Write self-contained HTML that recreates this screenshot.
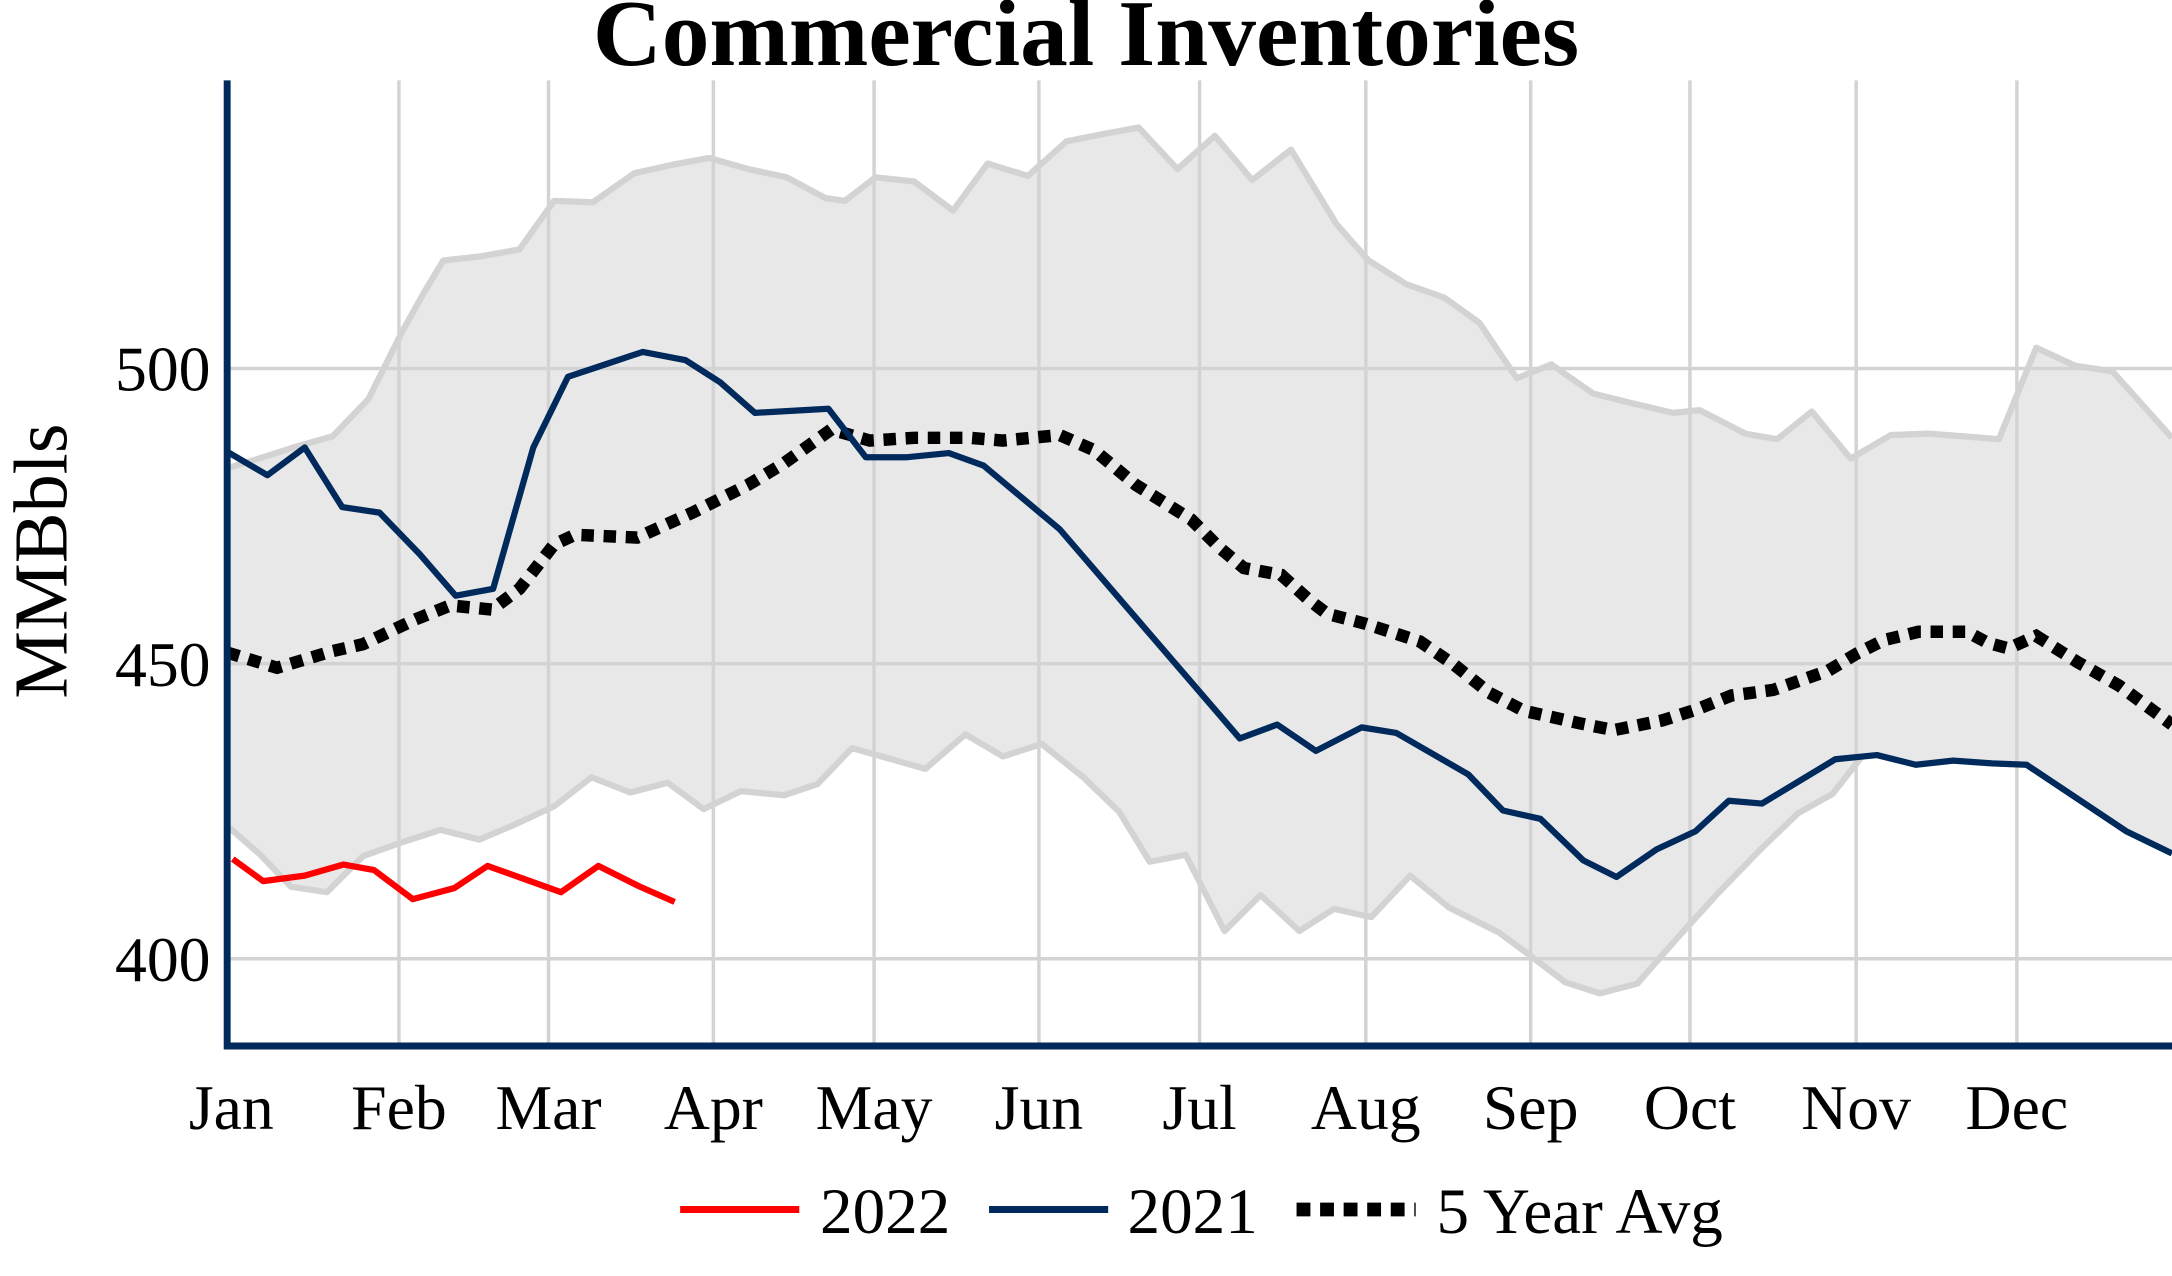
<!DOCTYPE html>
<html><head><meta charset="utf-8"><style>html,body{margin:0;padding:0;background:#fff;}svg{display:block}</style></head>
<body>
<svg width="2172" height="1276" viewBox="0 0 1568 921" preserveAspectRatio="none" xmlns="http://www.w3.org/2000/svg" font-family="'Liberation Serif', serif">
<rect width="1568" height="921" fill="#fff"/>
<polygon fill="#e8e8e8" points="164,338 190,330 215,322 240,315 266,288 290,240 305,213 320,188 347,185 375,180 400,145 428,146 458,125 485,119 512,114 540,122 568,128 596,143 610,145 632,128 660,131 688,152 713,118 742,127 770,102 795,97 822,92 850,122 877,98 904,130 932,108 965,162 988,188 1015,205 1043,215 1068,233 1095,273 1120,263 1150,284 1178,291 1208,298 1227,296 1260,313 1283,317 1308,297 1336,331 1365,314 1392,313 1418,315 1443,317 1470,251 1498,264 1525,268 1568,316 1568,616 1535,600 1500,578 1463,552 1438,550 1410,548 1385,551 1358,545 1345,545 1323,573 1298,587 1270,614 1240,645 1210,678 1182,710 1155,717 1130,709 1105,690 1082,673 1046,655 1018,632 990,662 963,656 938,672 910,646 884,672 856,617 830,622 808,586 782,561 752,537 724,546 697,530 668,555 640,547 615,540 590,566 566,574 535,571 508,584 482,565 455,572 427,561 400,582 372,595 346,606 318,599 290,608 262,618 236,644 210,640 188,617 164,596"/>
<g stroke="#d3d3d3" stroke-width="2.5">
<line x1="164" y1="266" x2="1568" y2="266"/><line x1="164" y1="479" x2="1568" y2="479"/><line x1="164" y1="692" x2="1568" y2="692"/>
<line x1="288" y1="58" x2="288" y2="755"/><line x1="396" y1="58" x2="396" y2="755"/><line x1="515" y1="58" x2="515" y2="755"/><line x1="631" y1="58" x2="631" y2="755"/><line x1="750" y1="58" x2="750" y2="755"/><line x1="866" y1="58" x2="866" y2="755"/><line x1="986" y1="58" x2="986" y2="755"/><line x1="1105" y1="58" x2="1105" y2="755"/><line x1="1220" y1="58" x2="1220" y2="755"/><line x1="1340" y1="58" x2="1340" y2="755"/><line x1="1456" y1="58" x2="1456" y2="755"/>
</g>
<g fill="none" stroke="#d3d3d3" stroke-width="4.5" stroke-linejoin="round">
<polyline points="164,338 190,330 215,322 240,315 266,288 290,240 305,213 320,188 347,185 375,180 400,145 428,146 458,125 485,119 512,114 540,122 568,128 596,143 610,145 632,128 660,131 688,152 713,118 742,127 770,102 795,97 822,92 850,122 877,98 904,130 932,108 965,162 988,188 1015,205 1043,215 1068,233 1095,273 1120,263 1150,284 1178,291 1208,298 1227,296 1260,313 1283,317 1308,297 1336,331 1365,314 1392,313 1418,315 1443,317 1470,251 1498,264 1525,268 1568,316"/>
<polyline points="164,596 188,617 210,640 236,644 262,618 290,608 318,599 346,606 372,595 400,582 427,561 455,572 482,565 508,584 535,571 566,574 590,566 615,540 640,547 668,555 697,530 724,546 752,537 782,561 808,586 830,622 856,617 884,672 910,646 938,672 963,656 990,662 1018,632 1046,655 1082,673 1105,690 1130,709 1155,717 1182,710 1210,678 1240,645 1270,614 1298,587 1323,573 1345,545"/>
</g>
<polyline fill="none" stroke="#000" stroke-width="9" stroke-dasharray="9 7" points="164,471 200,482 240,470 262,465 300,447 325,437 355,440 375,425 400,393 415,386 460,388 500,370 540,350 565,335 600,310 628,318 660,316 700,316 724,318 765,314 790,325 820,350 860,375 880,395 898,410 925,415 945,433 958,443 985,450 1025,463 1050,480 1075,500 1100,513 1140,522 1165,527 1200,520 1225,512 1250,502 1280,498 1320,484 1340,472 1360,462 1385,456 1420,456 1435,464 1450,468 1470,459 1500,478 1530,495 1568,523"/>
<polyline fill="none" stroke="#002a5c" stroke-width="4.5" stroke-linejoin="round" points="164,326 193,343 220,323 247,366 274,370 303,400 329,430 356,425 385,323 410,272 437,263 464,254 495,260 520,276 545,298 598,295 625,330 655,330 685,327 710,336 765,382 895,533 922,523 950,542 983,525 1008,529 1060,559 1085,585 1112,591 1143,621 1167,633 1196,613 1224,600 1248,578 1272,580 1325,548 1355,545 1383,552 1410,549 1438,551 1463,552 1535,600 1568,616"/>
<polyline fill="none" stroke="#ff0000" stroke-width="4.5" stroke-linejoin="round" points="168,620 190,636 220,632 248,624 270,628 298,649 328,641 352,625 405,644 432,625 462,640 487,651"/>
<path d="M164,58 V755 H1568" fill="none" stroke="#002a5c" stroke-width="5"/>
<text x="784" y="47" text-anchor="middle" font-size="68" font-weight="bold" textLength="712" lengthAdjust="spacingAndGlyphs">Commercial Inventories</text>
<g font-size="46" text-anchor="end"><text x="152" y="282">500</text><text x="152" y="495">450</text><text x="152" y="708">400</text></g>
<text transform="translate(48,405) rotate(-90)" text-anchor="middle" font-size="55">MMBbls</text>
<g font-size="46" text-anchor="middle">
<text x="167" y="815">Jan</text><text x="288" y="815">Feb</text><text x="396" y="815">Mar</text><text x="515" y="815">Apr</text><text x="631" y="815">May</text><text x="750" y="815">Jun</text><text x="866" y="815">Jul</text><text x="986" y="815">Aug</text><text x="1105" y="815">Sep</text><text x="1220" y="815">Oct</text><text x="1340" y="815">Nov</text><text x="1456" y="815">Dec</text>
</g>
<line x1="491" y1="873" x2="577" y2="873" stroke="#ff0000" stroke-width="5"/>
<text x="592" y="890" font-size="47">2022</text>
<line x1="714" y1="873" x2="800" y2="873" stroke="#002a5c" stroke-width="5"/>
<text x="814" y="890" font-size="47">2021</text>
<line x1="936" y1="873" x2="1022" y2="873" stroke="#000" stroke-width="10" stroke-dasharray="10 7"/>
<text x="1037" y="890" font-size="47">5 Year Avg</text>
</svg>
</body></html>
